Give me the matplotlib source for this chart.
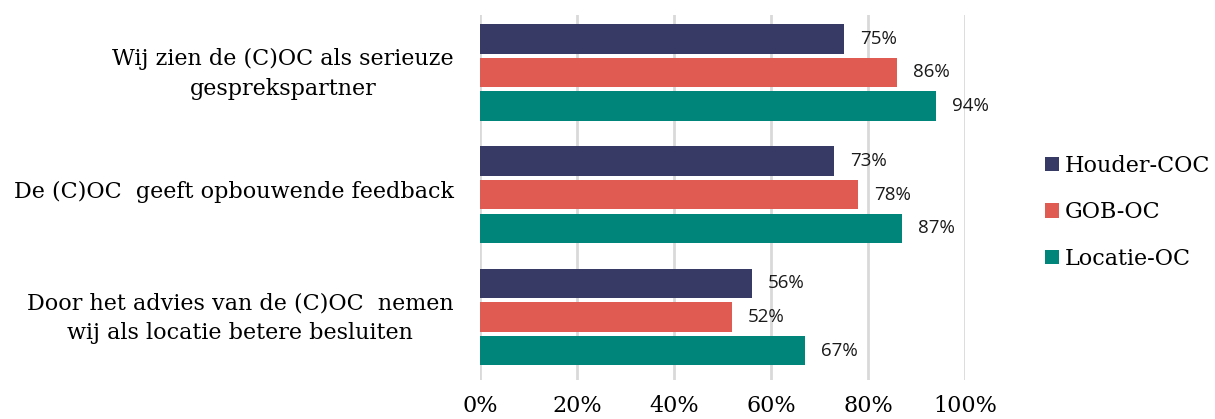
import matplotlib
matplotlib.use("Agg")
import matplotlib.pyplot as plt
import matplotlib.transforms as mtransforms
import numpy as np

categories = [
    "Wij zien de (C)OC als serieuze\ngesprekspartner",
    "De (C)OC  geeft opbouwende feedback",
    "Door het advies van de (C)OC  nemen\nwij als locatie betere besluiten",
]
series_names = ["Houder-COC", "GOB-OC", "Locatie-OC"]
houder = [0.75, 0.73, 0.56]
gob = [0.86, 0.78, 0.52]
locatie = [0.94, 0.87, 0.67]
xticks = [0, 0.2, 0.4, 0.6, 0.8, 1.0]
xticklabels = ["0%", "20%", "40%", "60%", "80%", "100%"]

colors = ["#383A66", "#E05C52", "#00857A"]
series = [houder, gob, locatie]

fig = plt.figure(figsize=(12.15, 4.19), dpi=100)
ax = fig.add_axes([480/1215, 1-380/419, 485/1215, 365/419])

y = np.arange(len(categories))
offsets = [-0.275, 0.0, 0.275]
h = 0.24
for vals, off, c, name in zip(series, offsets, colors, series_names):
    ax.barh(y + off, vals, height=h, color=c, label=name, zorder=3)
    for yy, v in zip(y + off, vals):
        ax.text(v + 0.033, yy, f"{round(v*100)}%", va="center", ha="left",
                fontsize=13.5, family="Open Sans", color="#1a1a1a", zorder=4)

ax.set_xlim(0, 1.0)
ax.set_ylim(2.515, -0.47)
ax.set_xticks(xticks)
ax.set_xticklabels(xticklabels, family="DejaVu Serif", fontsize=16)
ax.set_yticks(y)
ax.set_yticklabels(categories, family="DejaVu Serif", fontsize=16,
                   ha="right", multialignment="center", linespacing=1.45)
ax.tick_params(axis="y", length=0, pad=19)
ax.tick_params(axis="x", length=0, pad=11)
shift = mtransforms.ScaledTranslation(0, 5/100, fig.dpi_scale_trans)
for lbl in ax.get_yticklabels():
    lbl.set_transform(lbl.get_transform() + shift)
for s in ax.spines.values():
    s.set_visible(False)
ax.grid(axis="x", color="#D9D9D9", linewidth=2, zorder=0)
ax.set_axisbelow(True)

fig.legend(loc="upper left", bbox_to_anchor=(1036/1215, 1-146/419),
           frameon=False, prop={"family": "DejaVu Serif", "size": 16},
           handlelength=0.65, handleheight=0.65, handletextpad=0.25,
           labelspacing=1.1, borderaxespad=0)

fig.savefig("out.png", dpi=100)
